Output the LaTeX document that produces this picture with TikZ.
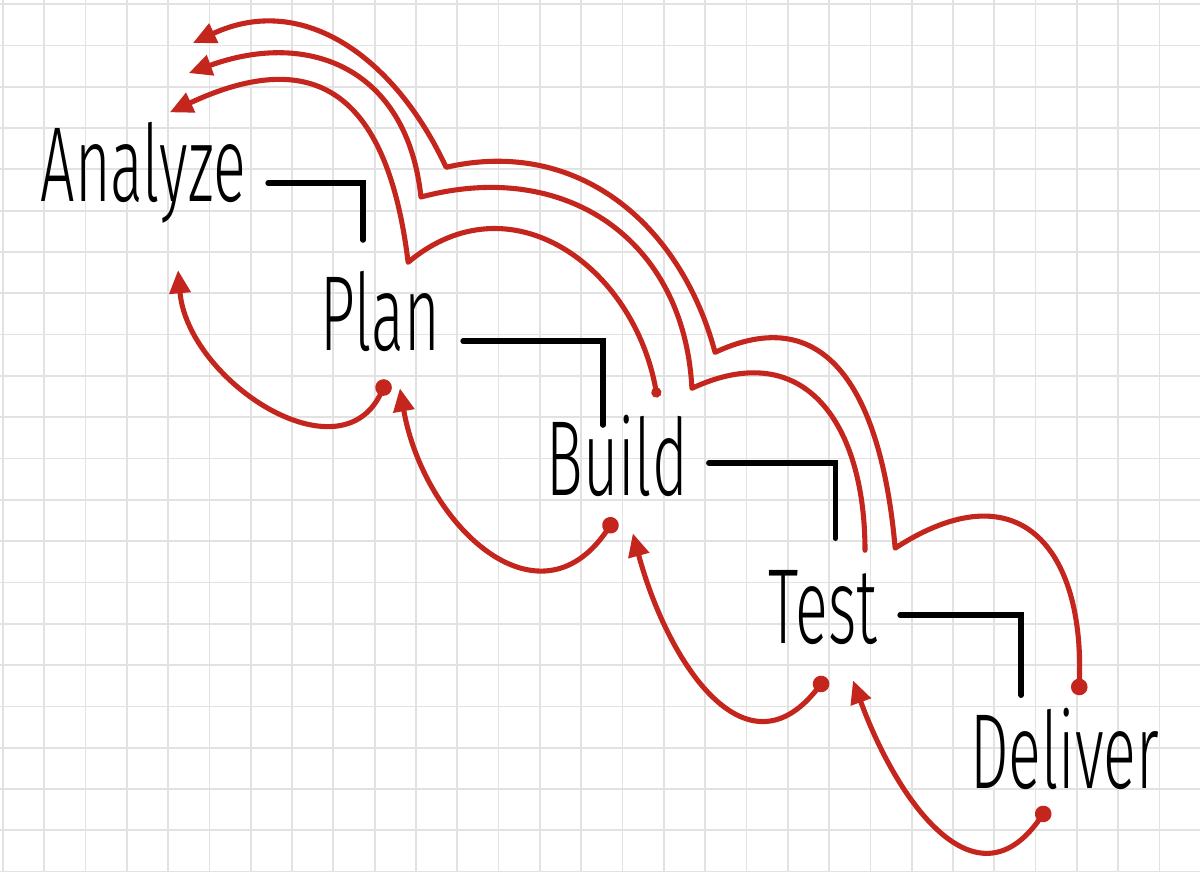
\documentclass[tikz,border=0pt]{standalone}
\usepackage{fontspec}
\newfontfamily\handfont{Fira Sans Light}
\usetikzlibrary{arrows.meta}

\definecolor{penred}{RGB}{196,38,30}
\definecolor{paper}{RGB}{226,226,226}

\begin{document}
\begin{tikzpicture}[
        word/.style={font=\fontsize{42}{50}\selectfont\handfont, inner sep=0pt, anchor=base, yscale=1.75},
        link/.style={line width=3.8pt, line cap=round},
        back/.style={draw=penred, line width=3.5pt, line cap=round, line join=round,
                     {Circle[length=4mm]}-{Triangle[length=5.6mm, width=5mm]}},
        return/.style={draw=penred, line width=3.5pt, line cap=round, line join=round,
                     -{Triangle[length=5.6mm, width=5mm]}},
    ]
        % squared paper
        \useasboundingbox (-0.07,-0.99) rectangle (28.98,20.10);
        \fill[white] (-0.07,-0.99) rectangle (28.98,20.10);
        \begin{scope}
            \clip (-0.07,-0.99) rectangle (28.98,20.10);
            \draw[paper, line width=1.2pt] (-1,-1) grid (29,21);
        \end{scope}

        % phases
        \node[word] (analyze) at (3.40,15.21) {Analyze};
        \node[word] (plan) at (9.13,11.62) {Plan};
        \node[word] (build) at (14.87,8.11) {Build};
        \node[word] (test) at (19.85,4.53) {Test};
        \node[word] (deliver) at (25.70,1.02) {Deliver};

        % waterfall steps
        \draw[link] ([shift={(3.02,0.46)}]analyze.base) -| ([shift={(-0.41,2.67)}]plan.base);
        \draw[link] ([shift={(2.01,0.22)}]plan.base) -| ([shift={(-0.34,1.70)}]build.base);
        \draw[link] ([shift={(2.22,0.78)}]build.base) -| ([shift={(0.30,2.54)}]test.base);
        \draw[link] ([shift={(1.87,0.68)}]test.base) -| ([shift={(-1.05,2.25)}]deliver.base);

        % one phase back
        \draw[back] ([shift={(0.17,-0.72)}]plan.base) to[out=245, in=-85, looseness=1.2] ([shift={(0.84,-1.65)}]analyze.base);
        \draw[back] ([shift={(-0.05,-0.56)}]build.base) to[out=236, in=-80, looseness=1.4] ([shift={(0.48,-0.92)}]plan.base);
        \draw[back] ([shift={(0.08,-0.83)}]test.base) to[out=232, in=-75, looseness=1.4] ([shift={(0.38,-0.92)}]build.base);
        \draw[back] ([shift={(-0.40,-0.46)}]deliver.base) to[out=235, in=-70, looseness=1.4] ([shift={(0.73,-0.90)}]test.base);

        % back over several phases, touching down above each one
        \draw[back, {Circle[length=2.4mm]}-{Triangle[length=5.6mm, width=5mm]}] ([shift={(0.97,2.37)}]build.base)
            to[out=100, in=40, looseness=1.2] ([shift={(0.68,2.13)}]plan.base)
            to[out=97, in=25, looseness=1.5] ([shift={(0.64,2.17)}]analyze.base);
        \draw[return] ([shift={(1.02,2.25)}]test.base)
            to[out=90, in=25, looseness=1.35] ([shift={(1.81,2.59)}]build.base)
            to[out=93, in=15, looseness=1.15] ([shift={(0.99,3.71)}]plan.base)
            to[out=96, in=20, looseness=1.25] ([shift={(1.10,3.12)}]analyze.base);
        \draw[back] ([shift={(0.35,2.25)}]deliver.base)
            to[out=88, in=33, looseness=1.6] ([shift={(1.75,2.30)}]test.base)
            to[out=95, in=25, looseness=1.3] ([shift={(2.37,3.46)}]build.base)
            to[out=105, in=13, looseness=1.05] ([shift={(1.60,4.43)}]plan.base)
            to[out=115, in=25, looseness=1.1] ([shift={(1.20,3.85)}]analyze.base);
    \end{tikzpicture}
\end{document}
